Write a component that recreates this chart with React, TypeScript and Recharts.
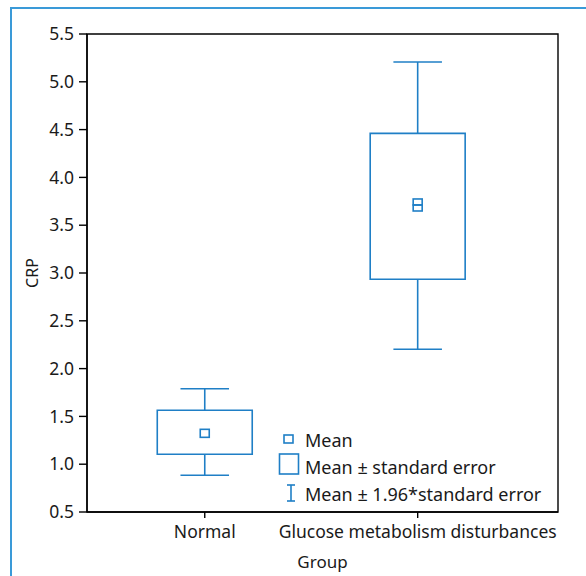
import React from 'react';
import { ComposedChart, XAxis, YAxis, Scatter, ReferenceArea, ReferenceLine, Legend, Label } from 'recharts';

// groups on the x axis
const groups = ['Normal', 'Glucose metabolism disturbances'];
const groupPos = [1, 2];

// mean ± standard error (box)
const seLow = [1.104, 2.934];
const seHigh = [1.564, 4.461];

// mean ± 1.96*standard error (whiskers)
const ciLow = [0.884, 2.202];
const ciHigh = [1.79, 5.207];

// mean markers
const normalMeans = [{ x: 1, y: 1.323 }];
const gmdMeans = [
  { x: 2, y: 3.743 },
  { x: 2, y: 3.68 },
];

const yTicks = [0.5, 1.0, 1.5, 2.0, 2.5, 3.0, 3.5, 4.0, 4.5, 5.0, 5.5];

const BLUE = '#1f7fc6';
const INK = '#1a1a1a';
const FONT = '"Noto Sans", "Open Sans", sans-serif';
const xDomain: [number, number] = [0.447, 2.659];
const yDomain: [number, number] = [0.5, 5.5];
const boxHalf = 0.223;
const capHalf = 0.114;

const squareShape = (h: number) => (props: any) => {
  const { cx, cy } = props;
  return <rect x={cx - 4.5} y={cy - h / 2} width={9} height={h} fill="none" stroke={BLUE} strokeWidth={1.6} />;
};

const renderLegend = () => (
  <div style={{ fontFamily: FONT, fontSize: 18, color: INK }}>
    <div style={{ display: 'flex', alignItems: 'center', height: 27 }}>
      <svg width={27} height={27}>
        <rect x={6} y={9} width={9} height={8} fill="none" stroke={BLUE} strokeWidth={1.6} />
      </svg>
      <span>Mean</span>
    </div>
    <div style={{ display: 'flex', alignItems: 'center', height: 27 }}>
      <svg width={27} height={27}>
        <rect x={1.5} y={1} width={19} height={20} fill="none" stroke={BLUE} strokeWidth={1.6} />
      </svg>
      <span>Mean ± standard error</span>
    </div>
    <div style={{ display: 'flex', alignItems: 'center', height: 27 }}>
      <svg width={27} height={27}>
        <line x1={13} y1={5} x2={13} y2={21} stroke={BLUE} strokeWidth={1.6} />
        <line x1={9} y1={5} x2={17} y2={5} stroke={BLUE} strokeWidth={1.6} />
        <line x1={9} y1={21} x2={17} y2={21} stroke={BLUE} strokeWidth={1.6} />
      </svg>
      <span>Mean ± 1.96*standard error</span>
    </div>
  </div>
);

export default function App() {
  return (
    <div style={{ position: 'relative', width: 586, height: 576, overflow: 'hidden', background: '#fff' }}>
      <style>{'body{margin:0}'}</style>
      <div
        style={{
          position: 'absolute',
          left: 10,
          top: 7,
          width: 620,
          height: 620,
          border: '2px solid #3a9ad8',
          boxSizing: 'border-box',
        }}
      />
      <ComposedChart
        width={586}
        height={576}
        margin={{ top: 34, right: 28, bottom: 14, left: 27 }}
        style={{ position: 'absolute', left: 0, top: 0 }}
      >
        <XAxis
          type="number"
          dataKey="x"
          domain={xDomain}
          allowDataOverflow
          ticks={groupPos}
          tickFormatter={(v) => groups[Math.round(v) - 1]}
          height={50}
          tickSize={6}
          tickMargin={8}
          tick={{ fill: INK, fontSize: 17.5, fontFamily: FONT }}
          axisLine={{ stroke: '#000', strokeWidth: 1.4 }}
          tickLine={{ stroke: '#000', strokeWidth: 1.4 }}
        >
          <Label value="Group" position="insideBottom" offset={-6} fill={INK} fontSize={17} fontFamily={FONT} />
        </XAxis>
        <YAxis
          type="number"
          domain={yDomain}
          allowDataOverflow
          ticks={yTicks}
          tickFormatter={(v) => Number(v).toFixed(1)}
          width={60}
          tickSize={8}
          tickMargin={5}
          tick={{ fill: INK, fontSize: 17.5, fontFamily: FONT }}
          axisLine={{ stroke: '#000', strokeWidth: 1.4 }}
          tickLine={{ stroke: '#000', strokeWidth: 1.4 }}
        >
          <Label value="CRP" angle={-90} position="insideLeft" offset={5} fill={INK} fontSize={16} fontFamily={FONT} style={{ textAnchor: 'middle' }} />
        </YAxis>

        {/* plot frame */}
        <ReferenceArea x1={xDomain[0]} x2={xDomain[1]} y1={yDomain[0]} y2={yDomain[1]} fill="none" stroke="#000" strokeWidth={1.4} fillOpacity={0} />

        {groupPos.map((p, i) => (
          <ReferenceLine key={`wu${i}`} segment={[{ x: p, y: seHigh[i] }, { x: p, y: ciHigh[i] }]} stroke={BLUE} strokeWidth={1.6} />
        ))}
        {groupPos.map((p, i) => (
          <ReferenceLine key={`wl${i}`} segment={[{ x: p, y: ciLow[i] }, { x: p, y: seLow[i] }]} stroke={BLUE} strokeWidth={1.6} />
        ))}
        {groupPos.map((p, i) => (
          <ReferenceLine key={`cu${i}`} segment={[{ x: p - capHalf, y: ciHigh[i] }, { x: p + capHalf, y: ciHigh[i] }]} stroke={BLUE} strokeWidth={1.6} />
        ))}
        {groupPos.map((p, i) => (
          <ReferenceLine key={`cl${i}`} segment={[{ x: p - capHalf, y: ciLow[i] }, { x: p + capHalf, y: ciLow[i] }]} stroke={BLUE} strokeWidth={1.6} />
        ))}
        {groupPos.map((p, i) => (
          <ReferenceArea key={`box${i}`} x1={p - boxHalf} x2={p + boxHalf} y1={seLow[i]} y2={seHigh[i]} fill="none" fillOpacity={0} stroke={BLUE} strokeWidth={1.6} />
        ))}

        <Scatter data={normalMeans} dataKey="y" shape={squareShape(8)} isAnimationActive={false} />
        <Scatter data={gmdMeans} dataKey="y" shape={squareShape(6)} isAnimationActive={false} />

        <Legend
          layout="horizontal"
          verticalAlign="middle"
          align="center"
          content={renderLegend}
          wrapperStyle={{ position: 'absolute', left: 278, top: 426, width: 290, height: 81 }}
        />
      </ComposedChart>
    </div>
  );
}
